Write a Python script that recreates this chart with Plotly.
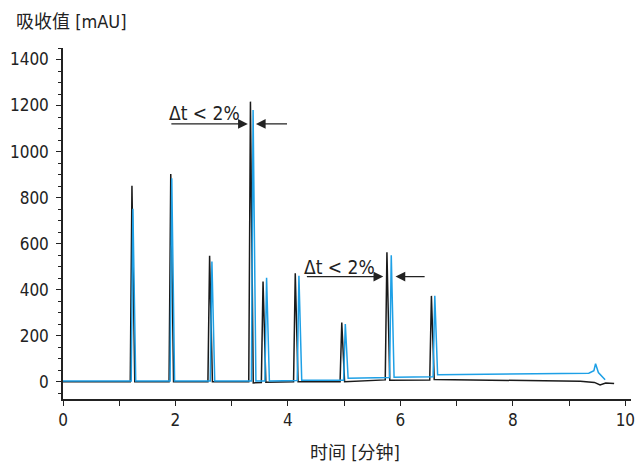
import plotly.graph_objects as go

# ---- data ----
black_rt = [1.226, 1.916, 2.607, 3.333, 3.557, 4.13, 4.957, 5.76, 6.551]
black_h = [851, 902, 547, 1217, 435, 471, 257, 563, 373]
black_foot_pre = [0, 0, 0, 0, -3, 0, 0, 8, 8]
black_foot_post = [0, 0, 0, -5, -2, 0, 0, 7, 10]
black_start_t = [0.0]
black_start_v = [0]
black_tail_t = [9.2, 9.45, 9.55, 9.65, 9.8]
black_tail_v = [2, -3, -14, -6, -8]

blue_rt = [1.243, 1.934, 2.648, 3.38, 3.62, 4.195, 5.02, 5.837, 6.611]
blue_h = [751, 884, 522, 1181, 452, 460, 251, 550, 373]
blue_foot_pre = [3, 3, 3, 3, 3, 5, 7, 18, 22]
blue_foot_post = [3, 3, 3, 3, 3, 7, 15, 20, 30]
blue_start_t = [0.0]
blue_start_v = [3]
blue_tail_t = [9.35, 9.44, 9.47, 9.52, 9.64]
blue_tail_v = [37, 48, 78, 40, 9]

x_ticks = [0, 2, 4, 6, 8, 10]
y_ticks = [0, 200, 400, 600, 800, 1000, 1200, 1400]

PRE = 0.03
POST = 0.05


def build(start_t, start_v, rt, h, fpre, fpost, tail_t, tail_v):
    xs, ys = list(start_t), list(start_v)
    for t, hh, a, b in zip(rt, h, fpre, fpost):
        xs += [t - PRE, t, t + POST]
        ys += [a, hh, b]
    xs += tail_t
    ys += tail_v
    return xs, ys


bx, by = build(black_start_t, black_start_v, black_rt, black_h,
               black_foot_pre, black_foot_post, black_tail_t, black_tail_v)
cx, cy = build(blue_start_t, blue_start_v, blue_rt, blue_h,
               blue_foot_pre, blue_foot_post, blue_tail_t, blue_tail_v)

FONT = "DejaVu Sans Condensed, Liberation Sans Narrow, Noto Sans CJK SC, sans-serif"
CJK = "DejaVu Sans Condensed, Noto Sans CJK SC, sans-serif"

fig = go.Figure()
fig.add_trace(go.Scatter(x=bx, y=by, mode="lines",
                         line=dict(color="#1a1a1a", width=1.5), hoverinfo="skip"))
fig.add_trace(go.Scatter(x=cx, y=cy, mode="lines",
                         line=dict(color="#1ea0e6", width=1.5), hoverinfo="skip"))

L, R, T, B = 63, 6, 48, 65
W, H = 637, 464
XMAX = 10.1

fig.update_layout(
    width=W, height=H,
    margin=dict(l=L, r=R, t=T, b=B),
    paper_bgcolor="white", plot_bgcolor="white",
    showlegend=False,
    font=dict(family=FONT, size=17, color="#222"),
)
fig.update_xaxes(
    range=[0, XMAX], tickvals=x_ticks, ticktext=[str(v) for v in x_ticks],
    automargin=False,
    showgrid=False, zeroline=False, showline=True, linecolor="#222", linewidth=1.5,
    ticks="outside", ticklen=5, tickwidth=1.2, tickcolor="#222",
    minor=dict(dtick=1, tick0=0, ticks="outside", ticklen=5, tickwidth=1.2, tickcolor="#222"),
    tickfont=dict(size=17, family=FONT),
)
fig.update_yaxes(
    range=[-75, 1450], tickvals=y_ticks, ticktext=[str(v) for v in y_ticks],
    automargin=False,
    showgrid=False, zeroline=False, showline=True, linecolor="#222", linewidth=1.5,
    ticks="outside", ticklen=5, tickwidth=1.2, tickcolor="#222",
    minor=dict(dtick=50, tick0=0, ticks="outside", ticklen=3, tickwidth=1.2, tickcolor="#222"),
    tickfont=dict(size=17, family=FONT), ticklabelstandoff=4,
)

pw = W - L - R
ph = H - T - B

# axis titles
fig.add_annotation(text="吸收值 [mAU]", xref="paper", yref="paper",
                   x=(14 - L) / pw, y=(H - B - 21) / ph, xanchor="left", yanchor="middle",
                   showarrow=False, font=dict(size=18, family=CJK, color="#222"))
fig.add_annotation(text="时间 [分钟]", xref="paper", yref="paper",
                   x=(355 - L) / pw, y=(H - B - 453) / ph, xanchor="center", yanchor="middle",
                   showarrow=False, font=dict(size=18, family=CJK, color="#222"))

# Δt annotations
ann = [
    # text x, text y, arrow y, right-arrow tail, right-arrow head, left-arrow tail, left-arrow head
    (2.52, 1168, 1120, 1.90, 3.286, 4.01, 3.43),
    (4.92, 500, 457, 4.31, 5.695, 6.457, 5.913),
]
for tx, ty, ay, t1, h1, t2, h2 in ann:
    fig.add_annotation(text="Δt < 2%", x=tx, y=ty, xref="x", yref="y",
                       showarrow=False, font=dict(size=19, family=FONT, color="#222"))
    for tail, head in [(t1, h1), (t2, h2)]:
        fig.add_annotation(text="", x=head, y=ay, ax=tail, ay=ay,
                           xref="x", yref="y", axref="x", ayref="y",
                           showarrow=True, arrowhead=2, arrowsize=1.5, arrowwidth=1.3,
                           arrowcolor="#222", standoff=0)

fig.write_html("out.html", config={"displayModeBar": False},
               post_script="document.documentElement.style.overflow='hidden';"
                           "document.body.style.overflow='hidden';"
                           "document.body.style.margin='0';document.body.style.padding='0';")
